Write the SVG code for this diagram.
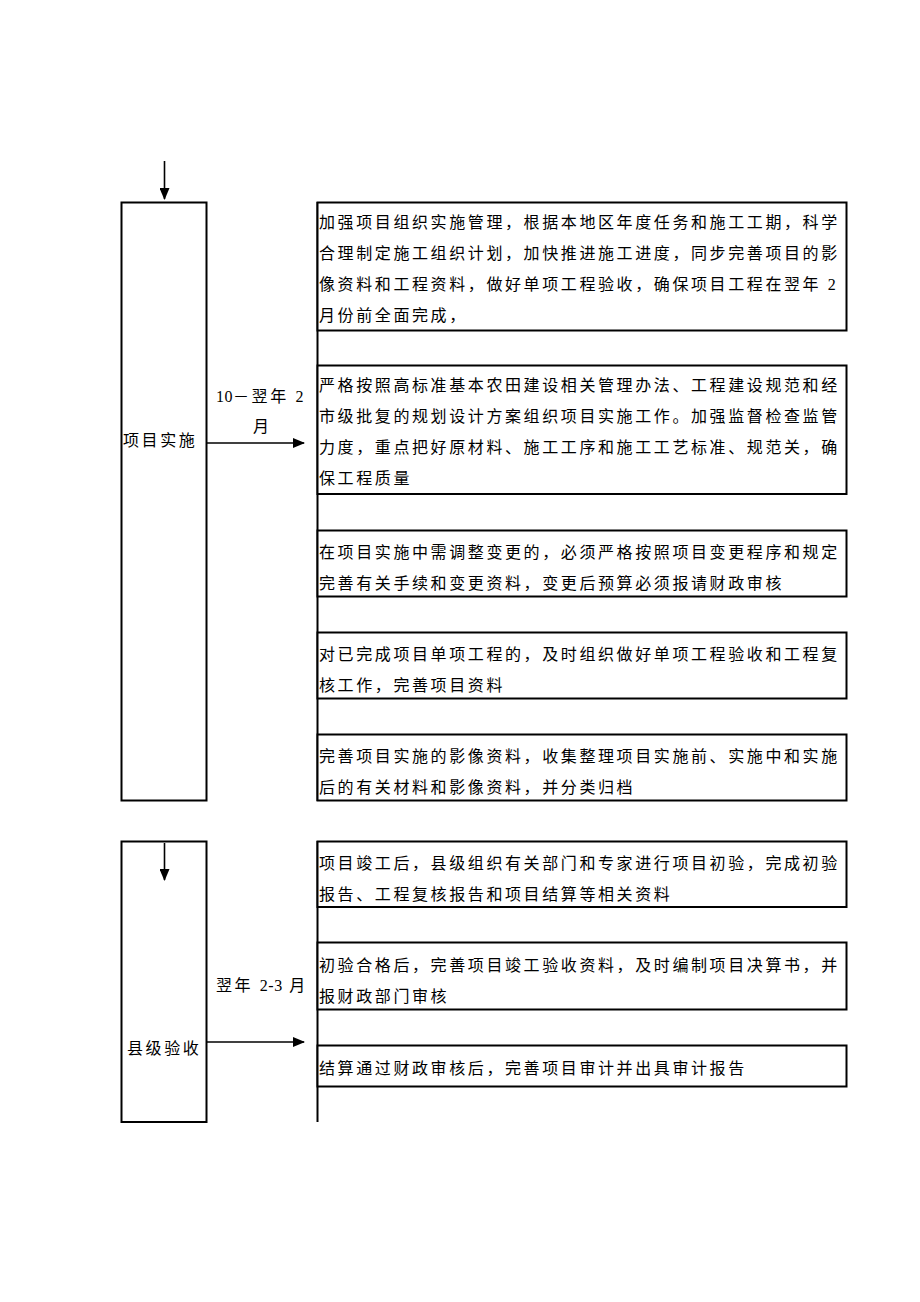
<svg xmlns="http://www.w3.org/2000/svg" width="920" height="1302" viewBox="0 0 920 1302">
<style>
.box{fill:#fff;stroke:#000;stroke-width:2}
.t{font-family:"Liberation Serif","Noto Sans CJK SC",serif;font-size:16px;letter-spacing:2.6px;fill:#000}
.n{letter-spacing:0.5px}
.ln{stroke:#000;stroke-width:1.6;fill:none}
.sp{stroke:#000;stroke-width:2;fill:none}
</style>
<defs>
<marker id="ah" markerUnits="userSpaceOnUse" markerWidth="12" markerHeight="10" refX="11" refY="5" orient="auto">
<path d="M0,0 L12,5 L0,10 Z" fill="#000"/>
</marker>
</defs>
<rect width="920" height="1302" fill="#fff"/>

<g id="stage1">
<rect class="box" x="121.5" y="202.5" width="85" height="598"/>
<text class="t" x="123" y="446">项目实施</text>
</g>
<g id="label1">
<text class="t" x="216" y="402"><tspan class="n">10</tspan>－翌年 2</text>
<text class="t" x="253" y="432">月</text>
</g>

<g id="spines">
<line class="sp" x1="317.5" y1="202" x2="317.5" y2="801"/>
<line class="sp" x1="317.5" y1="841" x2="317.5" y2="1122"/>
</g>

<g id="task1">
<rect class="box" x="317.5" y="202.5" width="529" height="128"/>
<text class="t" x="319" y="228">加强项目组织实施管理，根据本地区年度任务和施工工期，科学</text>
<text class="t" x="319" y="259">合理制定施工组织计划，加快推进施工进度，同步完善项目的影</text>
<text class="t" x="319" y="290">像资料和工程资料，做好单项工程验收，确保项目工程在翌年 2</text>
<text class="t" x="319" y="321">月份前全面完成，</text>
</g>
<g id="task2">
<rect class="box" x="317.5" y="365.5" width="529" height="128.5"/>
<text class="t" x="319" y="391">严格按照高标准基本农田建设相关管理办法、工程建设规范和经</text>
<text class="t" x="319" y="422">市级批复的规划设计方案组织项目实施工作。加强监督检查监管</text>
<text class="t" x="319" y="453">力度，重点把好原材料、施工工序和施工工艺标准、规范关，确</text>
<text class="t" x="319" y="484">保工程质量</text>
</g>
<g id="task3">
<rect class="box" x="317.5" y="530.5" width="529" height="66"/>
<text class="t" x="319" y="558">在项目实施中需调整变更的，必须严格按照项目变更程序和规定</text>
<text class="t" x="319" y="589">完善有关手续和变更资料，变更后预算必须报请财政审核</text>
</g>
<g id="task4">
<rect class="box" x="317.5" y="632.5" width="529" height="66"/>
<text class="t" x="319" y="660">对已完成项目单项工程的，及时组织做好单项工程验收和工程复</text>
<text class="t" x="319" y="691">核工作，完善项目资料</text>
</g>
<g id="task5">
<rect class="box" x="317.5" y="734.5" width="529" height="66"/>
<text class="t" x="319" y="762">完善项目实施的影像资料，收集整理项目实施前、实施中和实施</text>
<text class="t" x="319" y="793">后的有关材料和影像资料，并分类归档</text>
</g>

<g id="stage2">
<rect class="box" x="121.5" y="841.5" width="85" height="280.5"/>
<text class="t" x="127" y="1054">县级验收</text>
</g>
<g id="label2">
<text class="t" x="216" y="991">翌年 <tspan class="n">2-3</tspan> 月</text>
</g>

<g id="task6">
<rect class="box" x="317.5" y="841.5" width="529" height="65.5"/>
<text class="t" x="319" y="869">项目竣工后，县级组织有关部门和专家进行项目初验，完成初验</text>
<text class="t" x="319" y="900">报告、工程复核报告和项目结算等相关资料</text>
</g>
<g id="task7">
<rect class="box" x="317.5" y="942.5" width="529" height="67"/>
<text class="t" x="319" y="971">初验合格后，完善项目竣工验收资料，及时编制项目决算书，并</text>
<text class="t" x="319" y="1002">报财政部门审核</text>
</g>
<g id="task8">
<rect class="box" x="317.5" y="1045.5" width="529" height="41"/>
<text class="t" x="319" y="1074">结算通过财政审核后，完善项目审计并出具审计报告</text>
</g>

<g id="connectors">
<line class="ln" x1="164.5" y1="161" x2="164.5" y2="199" marker-end="url(#ah)"/>
<line class="ln" x1="207" y1="443" x2="304" y2="443" marker-end="url(#ah)"/>
<line class="ln" x1="164.5" y1="843" x2="164.5" y2="880" marker-end="url(#ah)"/>
<line class="ln" x1="207" y1="1042" x2="304" y2="1042" marker-end="url(#ah)"/>
</g>
</svg>
